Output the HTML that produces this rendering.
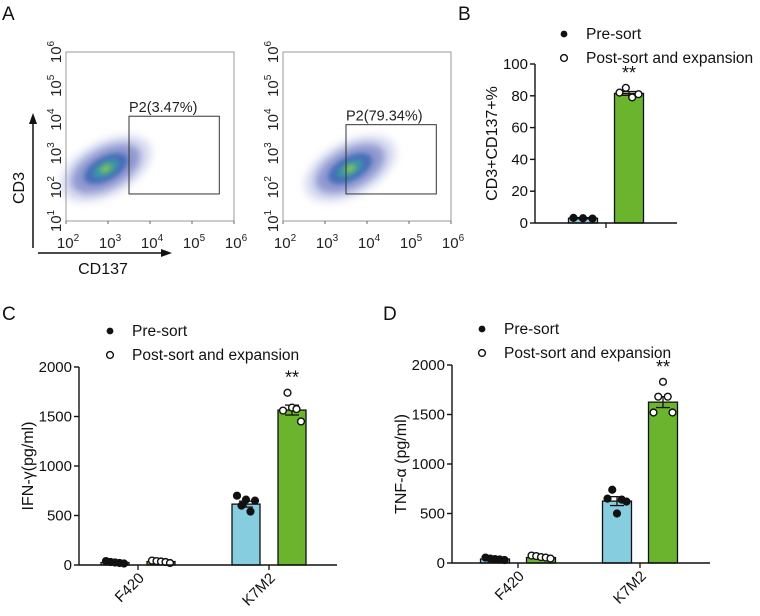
<!DOCTYPE html>
<html><head><meta charset="utf-8">
<style>
body{margin:0;background:#fff;}
svg{display:block;font-family:"Liberation Sans",sans-serif;}
</style></head>
<body>
<svg id="fig" width="760" height="616" viewBox="0 0 760 616">
<defs>
<filter id="blur" x="-50%" y="-50%" width="200%" height="200%"><feGaussianBlur stdDeviation="4"/></filter>
<filter id="blur2" x="-50%" y="-50%" width="200%" height="200%"><feGaussianBlur stdDeviation="2.5"/></filter>
</defs>
<g font-size="19" fill="#111">
<text x="2" y="20">A</text>
<text x="458" y="20">B</text>
<text x="2" y="320">C</text>
<text x="383" y="320">D</text>
</g>
<g id="flow"></g>
<g id="charts"></g>
</svg>
<script>
const NS='http://www.w3.org/2000/svg';
function mk(tag,attrs,parent,txt){const e=document.createElementNS(NS,tag);for(const k in attrs)e.setAttribute(k,attrs[k]);if(txt!==undefined)e.textContent=txt;parent.appendChild(e);return e;}

// ---- Panel A flow plots ----
const flowPlots=[
 {x0:66,x1:234,gateLabel:'P2(3.47%)',gate:[3.5,5.65,1.8,4.1],cloud:[2.95,2.55]},
 {x0:283,x1:451,gateLabel:'P2(79.34%)',gate:[3.5,5.65,1.8,3.85],cloud:[3.6,2.55]}
];
const flowTicks=[2,3,4,5,6];
const flowYTicks=[1,2,3,4,5,6];
const flowG=document.getElementById('flow');
flowPlots.forEach((p,i)=>{
  const y0=221,y1=52;
  const sx=v=>p.x0+(v-2)/4*(p.x1-p.x0);
  const sy=v=>y0-(v-1)/5*(y0-y1);
  const g=mk('g',{},flowG);
  
  
  const cx=sx(p.cloud[0]),cy=sy(p.cloud[1]);
  const cl=mk('g',{transform:`rotate(-28 ${cx} ${cy})`},g);
  
  
  mk('ellipse',{cx,cy,rx:50,ry:27,fill:'#6a78c8',opacity:0.25,filter:'url(#blur)'},cl);
  mk('ellipse',{cx,cy,rx:38,ry:20,fill:'#3445a8',opacity:0.45,filter:'url(#blur)'},cl);
  mk('ellipse',{cx,cy,rx:24,ry:12,fill:'#2b5fb0',opacity:0.7,filter:'url(#blur2)'},cl);
  mk('ellipse',{cx,cy,rx:14,ry:7,fill:'#3aa0a0',opacity:0.8,filter:'url(#blur2)'},cl);
  mk('ellipse',{cx,cy,rx:6,ry:3.5,fill:'#8cc850',opacity:0.85,filter:'url(#blur2)'},cl);
  const fr=mk('rect',{x:p.x0,y:y1,width:p.x1-p.x0,height:y0-y1,fill:'none',stroke:'#999','stroke-width':1},g);
  
  
  const gr=mk('rect',{x:sx(p.gate[0]),y:sy(p.gate[3]),width:sx(p.gate[1])-sx(p.gate[0]),height:sy(p.gate[2])-sy(p.gate[3]),fill:'none',stroke:'#333','stroke-width':1},g);
  
  
  const gl=mk('text',{x:sx(p.gate[0]),y:sy(p.gate[3])-4,'font-size':14.5,fill:'#222'},g,p.gateLabel);
  
  
  flowTicks.forEach(t=>{
    const tx=mk('text',{x:sx(t)+2,y:248,'font-size':15,'text-anchor':'middle',fill:'#222'},g);
    
    
    tx.appendChild(document.createTextNode('10'));
    mk('tspan',{dy:-7,'font-size':10},tx,String(t));
    mk('line',{x1:sx(t),x2:sx(t),y1:y0,y2:y0+3,stroke:'#666'},g);
  });
  flowYTicks.forEach(t=>{
    const ty=mk('text',{transform:`translate(${p.x0-5},${sy(t)}) rotate(-90)`,'font-size':15,'text-anchor':'middle',fill:'#222'},g);
    
    
    ty.appendChild(document.createTextNode('10'));
    mk('tspan',{dy:-7,'font-size':10},ty,String(t));
  });
});
(function(){
  const g=mk('g',{},flowG);
  
  
  mk('line',{x1:33,y1:248,x2:33,y2:122,stroke:'#111','stroke-width':1.5},g);
  mk('polygon',{points:'33,113 29,124 37,124',fill:'#111'},g);
  mk('line',{x1:38,y1:253,x2:163,y2:253,stroke:'#111','stroke-width':1.5},g);
  mk('polygon',{points:'172,253 161,249 161,257',fill:'#111'},g);
  const t1=mk('text',{x:103,y:274,'font-size':16,'text-anchor':'middle',fill:'#111'},g,'CD137');
  
  
  const t2=mk('text',{transform:'translate(24,188) rotate(-90)','font-size':16,'text-anchor':'middle',fill:'#111'},g,'CD3');
  
  
})();

// ---- Bar chart data ----
const bCategories=[''];
const bPreMean=[3];
const bPostMean=[81.5];
const bPreErr=[0.4];
const bPostErr=[1.2];
const bPrePoints=[[3.2,3,2.8]];
const bPostPoints=[[82,85,79,81]];
const bTicks=[0,20,40,60,80,100];

const cCategories=['F420','K7M2'];
const cPreMean=[25,615];
const cPostMean=[35,1565];
const cPreErr=[5,30];
const cPostErr=[5,50];
const cPrePoints=[[40,30,25,20,15],[700,600,660,540,650]];
const cPostPoints=[[45,40,35,30,20],[1560,1740,1590,1575,1450]];
const cTicks=[0,500,1000,1500,2000];

const dCategories=['F420','K7M2'];
const dPreMean=[40,625];
const dPostMean=[55,1625];
const dPreErr=[5,45];
const dPostErr=[5,55];
const dPrePoints=[[55,45,40,35,30],[650,740,500,640,620]];
const dPostPoints=[[75,70,60,55,45],[1520,1680,1830,1680,1520]];
const dTicks=[0,500,1000,1500,2000];

function drawChart(o){
  const root=document.getElementById('charts');
  const g=mk('g',{},root);
  
  
  const sy=v=>o.y0-v/o.max*(o.y0-o.y1);
  o.cats.forEach((c,i)=>{
    const cx=o.centers[i];
    [[o.pre,o.preErr,o.prePts,'#87cde0',-1,'pre'],[o.post,o.postErr,o.postPts,'#6ab42e',1,'post']].forEach(s=>{
      const bx=cx+s[4]*o.off-o.bw/2;
      const top=sy(s[0][i]);
      const r=mk('rect',{x:bx,y:top,width:o.bw,height:o.y0-top,fill:s[3],stroke:'#111','stroke-width':1.3},g);
      
      
      const bc=bx+o.bw/2;
      const eTop=sy(s[0][i]+s[1][i]), eBot=sy(s[0][i]-s[1][i]);
      const e=mk('g',{stroke:'#111','stroke-width':1.3},g);
      
      
      mk('line',{x1:bc,x2:bc,y1:eTop,y2:eBot},e);
      mk('line',{x1:bc-7,x2:bc+7,y1:eTop,y2:eTop},e);
      mk('line',{x1:bc-7,x2:bc+7,y1:eBot,y2:eBot},e);
      const pts=s[2][i];
      pts.forEach((v,j)=>{
        const px=bx+5+(o.bw-10)*(pts.length>1?j/(pts.length-1):0.5);
        const p=mk('circle',{cx:px,cy:sy(v),r:3.4,fill:s[5]==='pre'?'#111':'#fff',stroke:'#111','stroke-width':1.4},g);
        
        
      });
      if(s[5]==='post' && o.sig[i]){
        const st=mk('text',{x:bc,y:sy(Math.max(...pts))-9,'font-size':18,'text-anchor':'middle',fill:'#111'},g,'**');
        
        
      }
    });
    mk('line',{x1:cx,x2:cx,y1:o.y0,y2:o.y0+5,stroke:'#111','stroke-width':1.3},g);
    if(c){
      const t=mk('text',{transform:`translate(${cx+7},${o.y0+14}) rotate(-45)`,'font-size':15,'text-anchor':'end',fill:'#111'},g,c);
      
      
    }
  });
  const ax=mk('g',{stroke:'#111','stroke-width':1.4},g);
  
  
  mk('line',{x1:o.ax,x2:o.ax,y1:o.y1,y2:o.y0},ax);
  mk('line',{x1:o.ax,x2:o.xEnd,y1:o.y0,y2:o.y0},ax);
  o.ticks.forEach(t=>{
    mk('line',{x1:o.ax-5,x2:o.ax,y1:sy(t),y2:sy(t)},ax);
    const tl=mk('text',{x:o.ax-7,y:sy(t)+5,'font-size':15,'text-anchor':'end',fill:'#111',stroke:'none'},g,String(t));
    
    
  });
  const yt=mk('text',{transform:`translate(${o.ytx},${(o.y0+o.y1)/2}) rotate(-90)`,'font-size':16,'text-anchor':'middle',fill:'#111'},g,o.ytitle);
  
  
  const lg=mk('g',{},g);
  
  
  const e1=mk('g',{},lg);
  
  
  mk('circle',{cx:o.lx,cy:o.ly,r:3.4,fill:'#111'},e1);
  mk('text',{x:o.lx+22,y:o.ly+5,'font-size':15.5,fill:'#111'},e1,'Pre-sort');
  const e2=mk('g',{},lg);
  
  
  mk('circle',{cx:o.lx,cy:o.ly+24,r:3.4,fill:'#fff',stroke:'#111','stroke-width':1.4},e2);
  mk('text',{x:o.lx+22,y:o.ly+29,'font-size':15.5,fill:'#111'},e2,'Post-sort and expansion');
}

drawChart({name:'chart-b',cats:bCategories,centers:[606],off:23,bw:29,pre:bPreMean,post:bPostMean,preErr:bPreErr,postErr:bPostErr,prePts:bPrePoints,postPts:bPostPoints,sig:[true],
  ax:535,xEnd:677,y0:223,y1:64,max:100,ticks:bTicks,ytitle:'CD3+CD137+%',ytx:497,lx:564,ly:34});
drawChart({name:'chart-c-ifn-gamma',cats:cCategories,centers:[138,269],off:23,bw:28,pre:cPreMean,post:cPostMean,preErr:cPreErr,postErr:cPostErr,prePts:cPrePoints,postPts:cPostPoints,sig:[false,true],
  ax:79,xEnd:337,y0:565,y1:367,max:2000,ticks:cTicks,ytitle:'IFN-γ(pg/ml)',ytx:33,lx:110,ly:331});
drawChart({name:'chart-d-tnf-alpha',cats:dCategories,centers:[518,640],off:23,bw:29,pre:dPreMean,post:dPostMean,preErr:dPreErr,postErr:dPostErr,prePts:dPrePoints,postPts:dPostPoints,sig:[false,true],
  ax:452,xEnd:710,y0:563,y1:365,max:2000,ticks:dTicks,ytitle:'TNF-α (pg/ml)',ytx:406,lx:482,ly:329});
</script>
</body></html>
